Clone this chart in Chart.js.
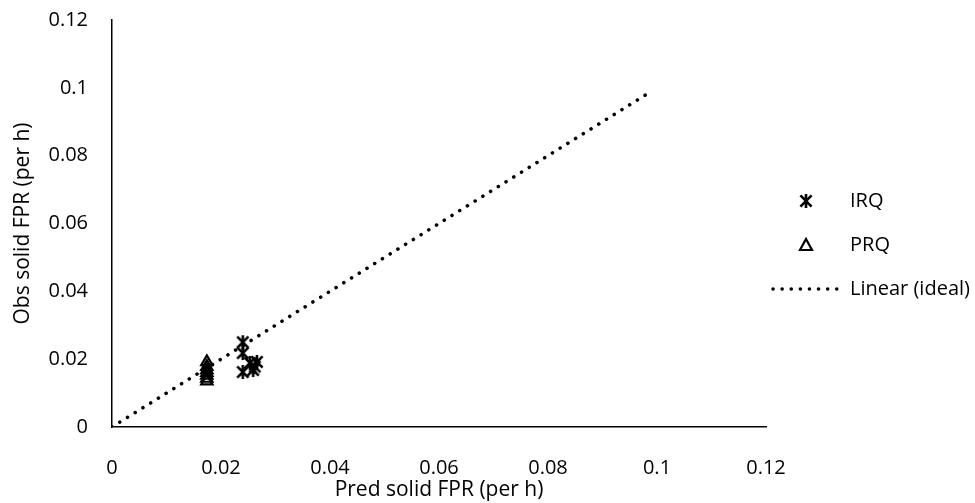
<!DOCTYPE html>
<html>
<head>
<meta charset="utf-8">
<script src="https://cdn.jsdelivr.net/npm/chart.js@4"></script>
<style>
  html, body { margin: 0; padding: 0; background: #fff; }
  #wrap { width: 975px; height: 503px; position: relative; }
</style>
</head>
<body>
<div id="wrap"><canvas id="fpr-chart" width="975" height="503"></canvas></div>
<script>
// --- Data ---
const irqX = [0.0240, 0.0240, 0.0253, 0.0266, 0.0240, 0.0259, 0.0262];
const irqY = [0.0250, 0.0218, 0.0189, 0.0192, 0.0162, 0.0168, 0.0178];
const prqX = [0.0174, 0.0174, 0.0174, 0.0174, 0.0174, 0.0174, 0.0174];
const prqY = [0.0192, 0.0178, 0.0168, 0.0160, 0.0152, 0.0143, 0.0135];
const idealX = [0, 0.099];
const idealY = [0, 0.099];
const axisTicks = [0, 0.02, 0.04, 0.06, 0.08, 0.1, 0.12];
const seriesNames = ["IRQ", "PRQ", "Linear (ideal)"];

const FONT = "'Open Sans', 'Liberation Sans', sans-serif";

function toPoints(xs, ys) {
  return xs.map((x, i) => ({ x: x, y: ys[i] }));
}

// six-armed asterisk marker like the Excel one
function makeStar(size) {
  const c = document.createElement("canvas");
  c.width = size;
  c.height = size;
  const g = c.getContext("2d");
  g.strokeStyle = "#000";
  g.lineWidth = 2.6;
  const m = size / 2, r = size / 2 - 1;
  g.beginPath();
  g.moveTo(m - r * 0.8, m - r * 0.8); g.lineTo(m + r * 0.8, m + r * 0.8);
  g.moveTo(m + r * 0.8, m - r * 0.8); g.lineTo(m - r * 0.8, m + r * 0.8);
  g.moveTo(m, m - r); g.lineTo(m, m + r);
  g.stroke();
  return c;
}
const starImg = makeStar(16);

// Legend drawn on the canvas at the right of the plot
const sideLegend = {
  id: "sideLegend",
  afterDraw(chart) {
    const ctx = chart.ctx;
    const rows = [201, 245, 289];
    ctx.save();
    ctx.font = "20px " + FONT;
    ctx.fillStyle = "#000";
    ctx.textBaseline = "middle";
    ctx.textAlign = "left";
    // IRQ
    ctx.drawImage(starImg, 806 - 8, rows[0] - 8);
    // PRQ
    ctx.strokeStyle = "#000";
    ctx.lineWidth = 2.2;
    ctx.beginPath();
    ctx.moveTo(806, rows[1] - 6);
    ctx.lineTo(812, rows[1] + 5);
    ctx.lineTo(800, rows[1] + 5);
    ctx.closePath();
    ctx.stroke();
    // Linear
    ctx.lineWidth = 3.5;
    ctx.lineCap = "round";
    ctx.setLineDash([0.1, 9]);
    ctx.beginPath();
    ctx.moveTo(773, rows[2]);
    ctx.lineTo(843, rows[2]);
    ctx.stroke();
    ctx.setLineDash([]);
    seriesNames.forEach((name, i) => ctx.fillText(name, 850, rows[i]));
    ctx.restore();
  }
};

const ctx = document.getElementById("fpr-chart").getContext("2d");

new Chart(ctx, {
  type: "scatter",
  data: {
    datasets: [
      {
        label: seriesNames[0],
        data: toPoints(irqX, irqY),
        pointStyle: starImg,
        pointRadius: 8,
        order: 1
      },
      {
        label: seriesNames[1],
        data: toPoints(prqX, prqY),
        pointStyle: "triangle",
        pointRadius: 6.5,
        borderColor: "#000",
        backgroundColor: "rgba(255,255,255,0)",
        borderWidth: 2.2,
        order: 2
      },
      {
        label: seriesNames[2],
        type: "line",
        data: toPoints(idealX, idealY),
        showLine: true,
        borderColor: "#000",
        borderWidth: 3.5,
        borderDash: [0.1, 9],
        borderCapStyle: "round",
        pointRadius: 0,
        fill: false,
        order: 3
      }
    ]
  },
  options: {
    responsive: false,
    animation: false,
    layout: { padding: { left: 0, right: 209, top: 20, bottom: 0 } },
    plugins: {
      legend: { display: false },
      tooltip: { enabled: false }
    },
    scales: {
      x: {
        type: "linear",
        min: 0,
        max: 0.12,
        afterBuildTicks: (scale) => { scale.ticks = axisTicks.map(v => ({ value: v })); },
        afterFit: (scale) => { scale.height = 76; },
        grid: { display: false, drawTicks: false },
        border: { display: true, color: "#000", width: 1.5 },
        ticks: {
          padding: 29,
          color: "#000",
          font: { family: FONT, size: 20 },
          maxRotation: 0,
          callback: (v) => String(+Number(v).toFixed(2))
        },
        title: {
          display: true,
          text: "Pred solid FPR (per h)",
          color: "#000",
          font: { family: FONT, size: 21 },
          padding: { top: 0, bottom: 0 }
        }
      },
      y: {
        type: "linear",
        min: 0,
        max: 0.12,
        afterBuildTicks: (scale) => { scale.ticks = axisTicks.map(v => ({ value: v })); },
        afterFit: (scale) => {
          scale.width = 112;
          scale.paddingTop = 0;
        },
        grid: { display: false, drawTicks: false },
        border: { display: true, color: "#000", width: 1.5 },
        ticks: {
          padding: 24,
          color: "#000",
          font: { family: FONT, size: 20 },
          callback: (v) => String(+Number(v).toFixed(2))
        },
        title: {
          display: true,
          text: "Obs solid FPR (per h)",
          color: "#000",
          font: { family: FONT, size: 21 },
          padding: { top: 10, bottom: 0 }
        }
      }
    }
  },
  plugins: [sideLegend]
});
</script>
</body>
</html>
